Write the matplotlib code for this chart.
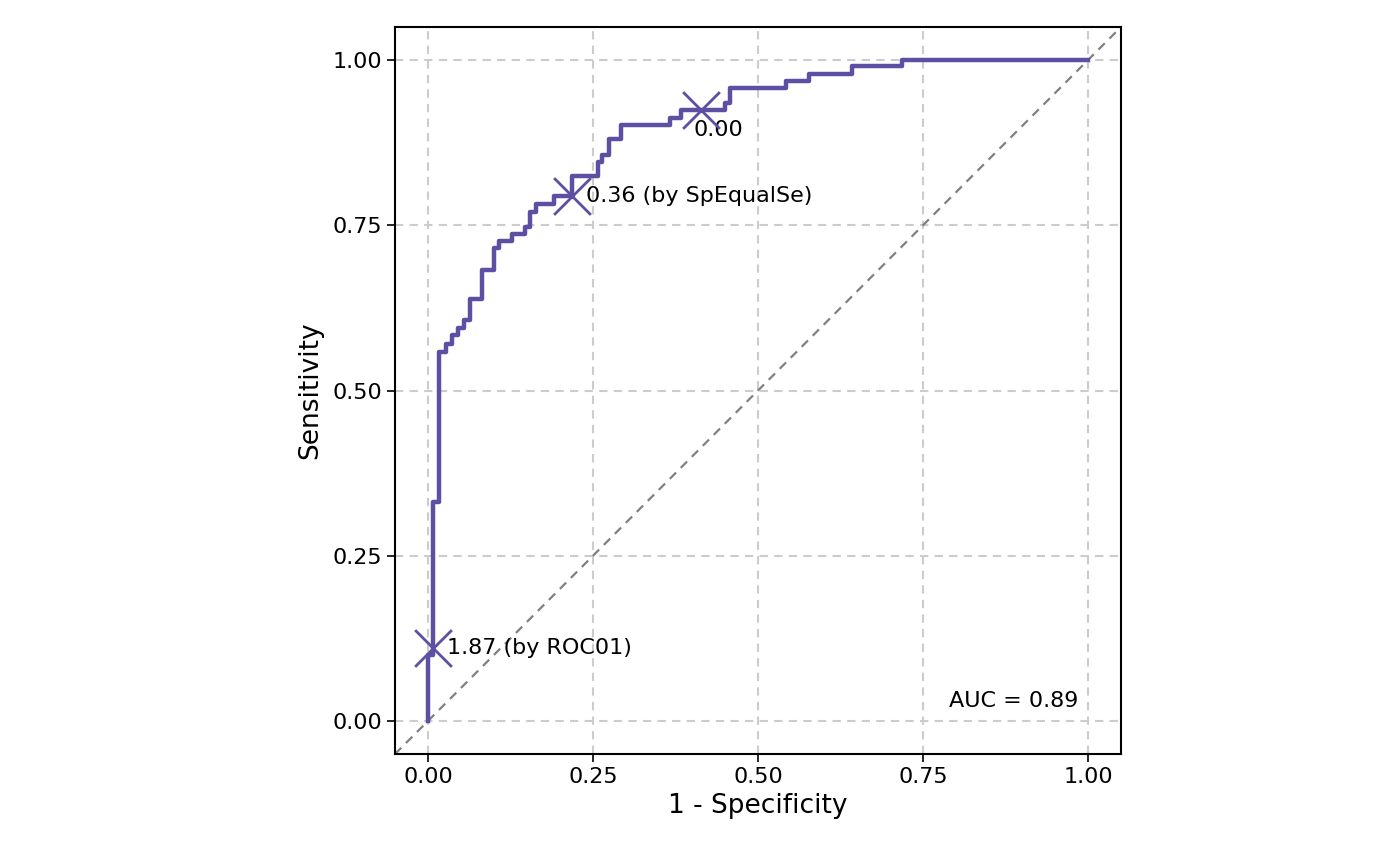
import matplotlib
matplotlib.use('Agg')
import matplotlib.pyplot as plt

# ROC curve step points
fpr = [0.0, 0.0, 0.007, 0.007, 0.016, 0.016, 0.027, 0.027, 0.036, 0.036, 0.046, 0.046,
       0.055, 0.055, 0.063, 0.063, 0.082, 0.082, 0.100, 0.100, 0.108, 0.108, 0.127, 0.127,
       0.147, 0.147, 0.155, 0.155, 0.163, 0.163, 0.191, 0.191, 0.218, 0.218, 0.257, 0.257,
       0.264, 0.264, 0.274, 0.274, 0.293, 0.293, 0.367, 0.367, 0.384, 0.384, 0.450, 0.450,
       0.458, 0.458, 0.542, 0.542, 0.577, 0.577, 0.643, 0.643, 0.718, 0.718, 1.0]
tpr = [0.0, 0.10, 0.10, 0.331, 0.331, 0.559, 0.559, 0.571, 0.571, 0.584, 0.584, 0.595,
       0.595, 0.606, 0.606, 0.638, 0.638, 0.683, 0.683, 0.715, 0.715, 0.726, 0.726, 0.737,
       0.737, 0.748, 0.748, 0.770, 0.770, 0.782, 0.782, 0.794, 0.794, 0.825, 0.825, 0.846,
       0.846, 0.857, 0.857, 0.880, 0.880, 0.902, 0.902, 0.913, 0.913, 0.924, 0.924, 0.935,
       0.935, 0.957, 0.957, 0.968, 0.968, 0.979, 0.979, 0.991, 0.991, 1.0, 1.0]

cut_x = [0.413, 0.218, 0.0075]
cut_y = [0.924, 0.794, 0.11]
cut_labels = ['0.00', '0.36 (by SpEqualSe)', '1.87 (by ROC01)']
auc = 0.89

color = '#5E4FA2'
fig = plt.figure(figsize=(14, 8.66), dpi=100)
ax = fig.add_axes([395 / 1400, 1 - 754 / 866, 726 / 1400, 727 / 866])
ax.set_xlim(-0.05, 1.05)
ax.set_ylim(-0.05, 1.05)
ticks = [0, 0.25, 0.5, 0.75, 1.0]
ax.set_xticks(ticks)
ax.set_yticks(ticks)
ax.set_xticklabels(['0.00', '0.25', '0.50', '0.75', '1.00'])
ax.set_yticklabels(['0.00', '0.25', '0.50', '0.75', '1.00'])
ax.grid(True, color='#cccccc', linestyle=(0, (4, 3)), linewidth=1.5)
ax.set_axisbelow(True)
ax.plot([-0.05, 1.05], [-0.05, 1.05], color='grey', linestyle=(0, (4, 3)), linewidth=1.6)
ax.plot(fpr, tpr, color=color, linewidth=3.2)
ax.scatter(cut_x, cut_y, marker='x', s=700, color=color, linewidths=2, zorder=5)
ax.text(cut_x[0] - 0.01, cut_y[0] - 0.015, cut_labels[0], fontsize=16, va='top', ha='left')
ax.text(cut_x[1] + 0.022, cut_y[1], cut_labels[1], fontsize=16, va='center', ha='left')
ax.text(cut_x[2] + 0.022, cut_y[2], cut_labels[2], fontsize=16, va='center', ha='left')
ax.text(0.985, 0.03, f'AUC = {auc:.2f}', fontsize=16, ha='right', va='center')
ax.set_xlabel('1 - Specificity', fontsize=19, labelpad=4)
ax.set_ylabel('Sensitivity', fontsize=19, labelpad=6)
ax.tick_params(labelsize=16, length=6, width=1.2)
for s in ax.spines.values():
    s.set_linewidth(1.5)
fig.savefig('out.png', dpi=100)
